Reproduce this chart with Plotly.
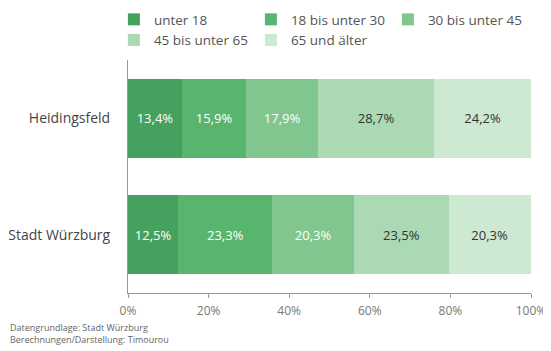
import plotly.graph_objects as go

categories = ["Heidingsfeld", "Stadt Würzburg"]
age_groups = ["unter 18", "18 bis unter 30", "30 bis unter 45", "45 bis unter 65", "65 und älter"]
unter18 = [13.4, 12.5]
b18_30 = [15.9, 23.3]
b30_45 = [17.9, 20.3]
b45_65 = [28.7, 23.5]
ab65 = [24.2, 20.3]
series = [unter18, b18_30, b30_45, b45_65, ab65]
x_ticks = [0, 20, 40, 60, 80, 100]
x_tick_labels = ["0%", "20%", "40%", "60%", "80%", "100%"]

colors = ["#45a25e", "#57b56d", "#80c68e", "#aad9b3", "#cde9d2"]
text_colors = ["white", "white", "white", "#333333", "#333333"]

fig = go.Figure()
for name, vals, c, tc in zip(age_groups, series, colors, text_colors):
    fig.add_trace(go.Bar(
        y=categories, x=vals, name=name, orientation="h",
        marker=dict(color=c, line=dict(width=0)),
        texttemplate="%{x:.1f}%", textposition="inside",
        insidetextanchor="middle",
        textfont=dict(color=tc, size=13, family="Open Sans"),
        hoverinfo="skip",
    ))

fig.update_layout(
    barmode="stack",
    bargap=0.32,
    separators=",.",
    width=543, height=343,
    margin=dict(l=120, r=20, t=52, b=58, autoexpand=False),
    paper_bgcolor="white", plot_bgcolor="white",
    font=dict(family="Open Sans", color="#444444", size=12),
    showlegend=True,
    legend=dict(
        orientation="h", xref="paper", x=-0.035, xanchor="left",
        yref="paper", y=1.24, yanchor="top",
        entrywidth=92, entrywidthmode="pixels",
        itemwidth=30,
        font=dict(size=13.5, color="#555555"),
        traceorder="normal",
    ),
    uniformtext=dict(minsize=8, mode="show"),
)
fig.update_xaxes(
    range=[0, 100], tickvals=x_ticks, ticktext=x_tick_labels,
    showgrid=False, zeroline=False,
    showline=True, linecolor="#999999", linewidth=1,
    ticks="outside", ticklen=4, tickcolor="#999999",
    ticklabelstandoff=3,
    tickfont=dict(size=12, color="#777777"),
)
fig.update_yaxes(
    categoryorder="array", categoryarray=categories, autorange="reversed",
    showgrid=False, zeroline=False,
    showline=True, linecolor="#999999", linewidth=1,
    ticks="", ticklabelstandoff=14,
    tickfont=dict(size=14, color="#444444"),
)

fig.add_annotation(
    text="Datengrundlage: Stadt Würzburg<br>Berechnungen/Darstellung: Timourou",
    xref="paper", yref="paper", x=-120/403, y=-0.112, xanchor="left", yanchor="top",
    align="left", showarrow=False,
    font=dict(size=9, color="#666666", family="Open Sans"),
)

fig.write_html("out.html")
